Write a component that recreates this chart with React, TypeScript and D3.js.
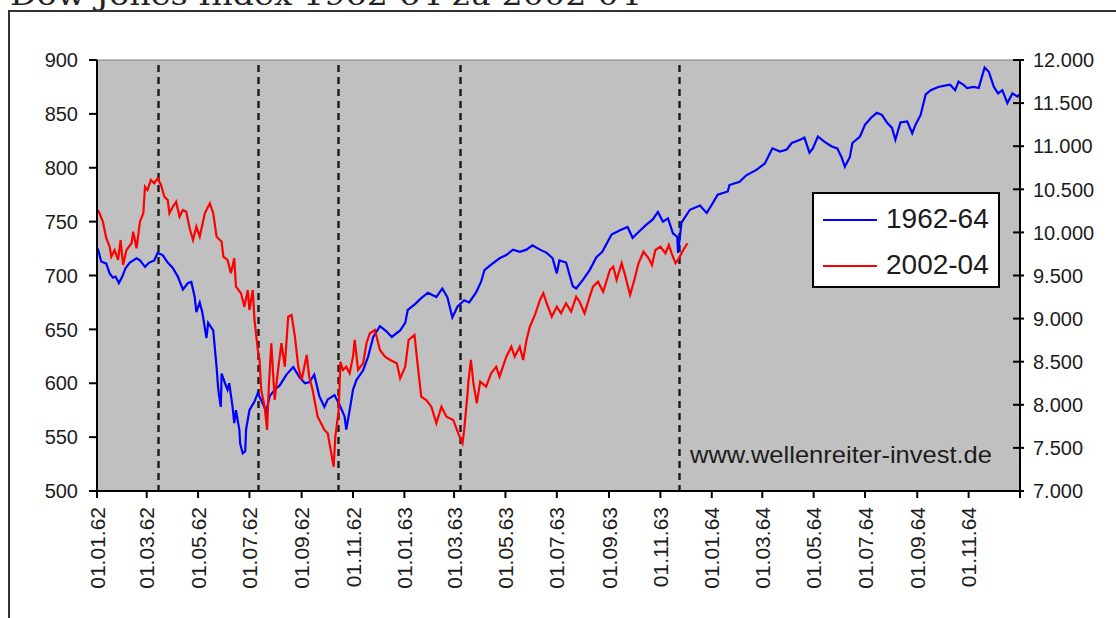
import React from 'react';
import * as d3 from 'd3';

const titleText = 'Dow Jones Index 1962-64 zu 2002-04';
const seriesNames = ['1962-64', '2002-04'];
const watermark = 'www.wellenreiter-invest.de';

const xTickDates = [
  '1962-01-01', '1962-03-01', '1962-05-01', '1962-07-01', '1962-09-01', '1962-11-01',
  '1963-01-01', '1963-03-01', '1963-05-01', '1963-07-01', '1963-09-01', '1963-11-01',
  '1964-01-01', '1964-03-01', '1964-05-01', '1964-07-01', '1964-09-01', '1964-11-01',
];
const xDomain = ['1962-01-01', '1965-01-01'];
const leftTicks = [500, 550, 600, 650, 700, 750, 800, 850, 900];
const rightTicks = [7000, 7500, 8000, 8500, 9000, 9500, 10000, 10500, 11000, 11500, 12000];
const markerDates = ['1962-03-14', '1962-07-11', '1962-10-14', '1963-03-08', '1963-11-23'];

const dow1962: [string, number][] = [
  ['1962-01-02', 725], ['1962-01-06', 713], ['1962-01-12', 711], ['1962-01-16', 702], ['1962-01-20', 698],
  ['1962-01-23', 699], ['1962-01-27', 693], ['1962-01-31', 699], ['1962-02-04', 707], ['1962-02-09', 712],
  ['1962-02-17', 716], ['1962-02-21', 714], ['1962-02-27', 708], ['1962-03-04', 712], ['1962-03-10', 714],
  ['1962-03-14', 721], ['1962-03-20', 719], ['1962-03-26', 712], ['1962-04-01', 707], ['1962-04-07', 699],
  ['1962-04-13', 687], ['1962-04-19', 693], ['1962-04-23', 694], ['1962-04-27', 680], ['1962-04-29', 666],
  ['1962-05-03', 675], ['1962-05-06', 666], ['1962-05-11', 642], ['1962-05-13', 656], ['1962-05-19', 649],
  ['1962-05-23', 615], ['1962-05-25', 594], ['1962-05-28', 578], ['1962-05-29', 609], ['1962-06-02', 600],
  ['1962-06-05', 594], ['1962-06-07', 600], ['1962-06-11', 578], ['1962-06-13', 563], ['1962-06-15', 575],
  ['1962-06-19', 557], ['1962-06-20', 544], ['1962-06-23', 535], ['1962-06-26', 537], ['1962-06-27', 557],
  ['1962-07-01', 575], ['1962-07-07', 583], ['1962-07-11', 591], ['1962-07-17', 581], ['1962-07-21', 574],
  ['1962-07-25', 588], ['1962-07-31', 594], ['1962-08-06', 598], ['1962-08-14', 608], ['1962-08-22', 615],
  ['1962-08-30', 605], ['1962-09-05', 600], ['1962-09-10', 601], ['1962-09-16', 608], ['1962-09-22', 588],
  ['1962-09-28', 578], ['1962-10-02', 585], ['1962-10-10', 589], ['1962-10-16', 580], ['1962-10-22', 569],
  ['1962-10-24', 557], ['1962-10-28', 575], ['1962-11-01', 594], ['1962-11-05', 603], ['1962-11-13', 612],
  ['1962-11-19', 625], ['1962-11-25', 643], ['1962-12-03', 653], ['1962-12-11', 648], ['1962-12-17', 643],
  ['1962-12-27', 649], ['1963-01-02', 656], ['1963-01-05', 668], ['1963-01-13', 673], ['1963-01-21', 679],
  ['1963-01-29', 684], ['1963-02-08', 680], ['1963-02-15', 688], ['1963-02-21', 680], ['1963-02-27', 661],
  ['1963-03-05', 671], ['1963-03-13', 677], ['1963-03-19', 675], ['1963-03-27', 684], ['1963-04-02', 694],
  ['1963-04-06', 705], ['1963-04-14', 710], ['1963-04-24', 716], ['1963-05-02', 719], ['1963-05-10', 724],
  ['1963-05-18', 722], ['1963-05-26', 724], ['1963-06-02', 728], ['1963-06-11', 724], ['1963-06-19', 721],
  ['1963-06-26', 716], ['1963-07-01', 702], ['1963-07-04', 714], ['1963-07-12', 712], ['1963-07-20', 690],
  ['1963-07-24', 688], ['1963-08-01', 696], ['1963-08-09', 705], ['1963-08-17', 717], ['1963-08-24', 722],
  ['1963-09-04', 738], ['1963-09-14', 742], ['1963-09-23', 745], ['1963-09-29', 735], ['1963-10-07', 741],
  ['1963-10-15', 747], ['1963-10-23', 752], ['1963-10-29', 759], ['1963-11-04', 750], ['1963-11-10', 753],
  ['1963-11-16', 739], ['1963-11-21', 736], ['1963-11-22', 721], ['1963-11-26', 749], ['1963-12-06', 761],
  ['1963-12-18', 765], ['1963-12-26', 758], ['1964-01-02', 767], ['1964-01-08', 775], ['1964-01-20', 778],
  ['1964-01-22', 784], ['1964-02-03', 787], ['1964-02-11', 793], ['1964-02-23', 798], ['1964-03-04', 804],
  ['1964-03-13', 818], ['1964-03-22', 815], ['1964-03-30', 817], ['1964-04-05', 823], ['1964-04-15', 826],
  ['1964-04-20', 828], ['1964-04-26', 814], ['1964-04-30', 818], ['1964-05-06', 829], ['1964-05-14', 824],
  ['1964-05-22', 820], ['1964-05-29', 818], ['1964-06-03', 810], ['1964-06-07', 801], ['1964-06-13', 810],
  ['1964-06-16', 823], ['1964-06-25', 829], ['1964-07-01', 840], ['1964-07-09', 847], ['1964-07-15', 851],
  ['1964-07-21', 849], ['1964-07-27', 842], ['1964-08-02', 837], ['1964-08-06', 826], ['1964-08-12', 842],
  ['1964-08-20', 843], ['1964-08-26', 832], ['1964-08-30', 840], ['1964-09-05', 849], ['1964-09-11', 868],
  ['1964-09-17', 872], ['1964-09-26', 875], ['1964-10-02', 876], ['1964-10-10', 877], ['1964-10-16', 872],
  ['1964-10-20', 880], ['1964-10-26', 877], ['1964-10-30', 874], ['1964-11-07', 875], ['1964-11-13', 874],
  ['1964-11-17', 885], ['1964-11-20', 893], ['1964-11-25', 889], ['1964-12-01', 875], ['1964-12-06', 869],
  ['1964-12-11', 872], ['1964-12-17', 860], ['1964-12-23', 869], ['1964-12-29', 866], ['1964-12-31', 868],
];

const dow2002: [string, number][] = [
  ['2002-01-02', 10260], ['2002-01-04', 10222], ['2002-01-08', 10124], ['2002-01-12', 9932], ['2002-01-16', 9834],
  ['2002-01-18', 9718], ['2002-01-22', 9796], ['2002-01-26', 9680], ['2002-01-29', 9912], ['2002-02-01', 9622],
  ['2002-02-05', 9796], ['2002-02-11', 9874], ['2002-02-13', 10008], ['2002-02-17', 9816], ['2002-02-21', 10124],
  ['2002-02-25', 10222], ['2002-02-27', 10530], ['2002-03-02', 10492], ['2002-03-06', 10608], ['2002-03-10', 10570],
  ['2002-03-14', 10628], ['2002-03-18', 10550], ['2002-03-22', 10414], ['2002-03-26', 10376], ['2002-03-28', 10222],
  ['2002-04-01', 10298], ['2002-04-05', 10356], ['2002-04-09', 10182], ['2002-04-13', 10260], ['2002-04-17', 10240],
  ['2002-04-21', 10048], ['2002-04-25', 9912], ['2002-04-29', 10066], ['2002-05-03', 9950], ['2002-05-09', 10222],
  ['2002-05-15', 10338], ['2002-05-19', 10222], ['2002-05-23', 9950], ['2002-05-29', 9892], ['2002-05-31', 9718],
  ['2002-06-05', 9680], ['2002-06-09', 9526], ['2002-06-13', 9700], ['2002-06-15', 9370], ['2002-06-21', 9294],
  ['2002-06-25', 9138], ['2002-06-29', 9332], ['2002-07-01', 9100], ['2002-07-05', 9332], ['2002-07-07', 8984],
  ['2002-07-11', 8636], ['2002-07-13', 8520], ['2002-07-15', 8172], ['2002-07-19', 7978], ['2002-07-22', 7708],
  ['2002-07-24', 8210], ['2002-07-27', 8714], ['2002-07-31', 8056], ['2002-08-04', 8404], ['2002-08-08', 8714],
  ['2002-08-12', 8442], ['2002-08-16', 9022], ['2002-08-20', 9042], ['2002-08-24', 8790], ['2002-08-28', 8442],
  ['2002-09-01', 8288], ['2002-09-07', 8578], ['2002-09-10', 8326], ['2002-09-14', 8172], ['2002-09-20', 7862],
  ['2002-09-24', 7785], ['2002-09-28', 7708], ['2002-10-02', 7669], ['2002-10-09', 7282], ['2002-10-11', 7630],
  ['2002-10-15', 7940], ['2002-10-17', 8500], ['2002-10-20', 8404], ['2002-10-24', 8442], ['2002-10-28', 8365],
  ['2002-11-01', 8558], ['2002-11-03', 8752], ['2002-11-07', 8404], ['2002-11-13', 8481], ['2002-11-17', 8714],
  ['2002-11-21', 8830], ['2002-11-27', 8868], ['2002-12-03', 8636], ['2002-12-09', 8558], ['2002-12-15', 8520],
  ['2002-12-23', 8481], ['2002-12-27', 8307], ['2003-01-02', 8442], ['2003-01-06', 8752], ['2003-01-13', 8810],
  ['2003-01-17', 8442], ['2003-01-21', 8094], ['2003-01-27', 8056], ['2003-02-02', 7978], ['2003-02-08', 7785],
  ['2003-02-14', 7978], ['2003-02-20', 7862], ['2003-02-28', 7824], ['2003-03-06', 7669], ['2003-03-11', 7553],
  ['2003-03-13', 7708], ['2003-03-17', 8133], ['2003-03-18', 8268], ['2003-03-21', 8520], ['2003-03-24', 8249],
  ['2003-03-28', 8017], ['2003-04-01', 8268], ['2003-04-08', 8210], ['2003-04-14', 8365], ['2003-04-20', 8442],
  ['2003-04-24', 8326], ['2003-05-02', 8558], ['2003-05-08', 8674], ['2003-05-12', 8558], ['2003-05-18', 8674],
  ['2003-05-22', 8520], ['2003-05-26', 8752], ['2003-05-30', 8906], ['2003-06-05', 9042], ['2003-06-11', 9216],
  ['2003-06-15', 9294], ['2003-06-19', 9178], ['2003-06-25', 9022], ['2003-07-01', 9138], ['2003-07-06', 9061],
  ['2003-07-12', 9178], ['2003-07-18', 9080], ['2003-07-24', 9254], ['2003-07-28', 9196], ['2003-08-03', 9061],
  ['2003-08-09', 9254], ['2003-08-13', 9370], ['2003-08-19', 9428], ['2003-08-25', 9312], ['2003-09-02', 9564],
  ['2003-09-06', 9602], ['2003-09-10', 9448], ['2003-09-16', 9642], ['2003-09-20', 9506], ['2003-09-26', 9274],
  ['2003-10-01', 9448], ['2003-10-06', 9642], ['2003-10-12', 9776], ['2003-10-18', 9700], ['2003-10-22', 9622],
  ['2003-10-26', 9796], ['2003-11-01', 9834], ['2003-11-07', 9758], ['2003-11-11', 9854], ['2003-11-15', 9738],
  ['2003-11-19', 9642], ['2003-11-23', 9700], ['2003-11-27', 9776], ['2003-12-03', 9874],
];

const W = 1116;
const H = 618;
const M = { left: 97, right: 1020, top: 60, bottom: 491 };
const FONT = '"Liberation Sans", Arial, sans-serif';
const TXT = '#1c1c1c';

export default function App() {
  const parse = d3.timeParse('%Y-%m-%d');
  const fmt = d3.timeFormat('%d.%m.%y');
  const x = d3.scaleTime()
    .domain(xDomain.map((d) => parse(d) as Date))
    .range([M.left, M.right]);
  const yL = d3.scaleLinear().domain([500, 900]).range([M.bottom, M.top]);
  const yR = d3.scaleLinear().domain([7000, 12000]).range([M.bottom, M.top]);

  const blue = dow1962.map(([d, v]) => ({ t: parse(d) as Date, v }));
  const red = dow2002.map(([d, v]) => ({ t: d3.timeYear.offset(parse(d) as Date, -40), v }));

  const lineL = d3.line<{ t: Date; v: number }>().x((d) => x(d.t)).y((d) => yL(d.v));
  const lineR = d3.line<{ t: Date; v: number }>().x((d) => x(d.t)).y((d) => yR(d.v));

  const tickDates = [...xTickDates.map((d) => parse(d) as Date), parse(xDomain[1]) as Date];

  return (
    <svg width={W} height={H} style={{ position: 'absolute', left: 0, top: 0, display: 'block', background: '#fff' }}>
      {/* title (cut at top, as in the original) */}
      <text x={10} y={5} fontFamily='"DejaVu Serif", serif' fontSize={28} fill="#222" textLength={630} lengthAdjust="spacingAndGlyphs">
        {titleText}
      </text>
      {/* outer frame */}
      <line x1={8} y1={11} x2={W} y2={11} stroke="#333" strokeWidth={2} />
      <line x1={9} y1={10} x2={9} y2={H} stroke="#333" strokeWidth={2} />

      {/* plot area */}
      <rect x={M.left} y={M.top} width={M.right - M.left} height={M.bottom - M.top} fill="#c0c0c0" stroke="#808080" strokeWidth={1} />

      {/* markers */}
      {markerDates.map((d) => {
        const xx = Math.round(x(parse(d) as Date)) + 0.5;
        return <line key={d} x1={xx} x2={xx} y1={M.top + 5} y2={M.bottom} stroke="#1a1a1a" strokeWidth={2.4} strokeDasharray="7,5" />;
      })}

      {/* series */}
      <path d={lineL(blue) || ''} fill="none" stroke="#0000ff" strokeWidth={2.2} strokeLinejoin="miter" />
      <path d={lineR(red) || ''} fill="none" stroke="#ff0000" strokeWidth={2.2} strokeLinejoin="miter" />

      {/* axes */}
      <line x1={M.left} x2={M.left} y1={M.top} y2={M.bottom + 1} stroke="#000" strokeWidth={2} />
      <line x1={M.right} x2={M.right} y1={M.top} y2={M.bottom + 1} stroke="#000" strokeWidth={2} />
      <line x1={M.left - 1} x2={M.right + 1} y1={M.bottom} y2={M.bottom} stroke="#000" strokeWidth={2} />

      {leftTicks.map((v) => (
        <g key={'l' + v}>
          <line x1={M.left - 8} x2={M.left} y1={yL(v)} y2={yL(v)} stroke="#000" strokeWidth={2} />
          <text x={78} y={yL(v)} dy="0.36em" textAnchor="end" fontFamily={FONT} fontSize={20} fill={TXT}>{v}</text>
        </g>
      ))}
      {rightTicks.map((v) => (
        <g key={'r' + v}>
          <line x1={M.right - 7} x2={M.right + 4} y1={yR(v)} y2={yR(v)} stroke="#000" strokeWidth={2} />
          <text x={1033} y={yR(v)} dy="0.36em" textAnchor="start" fontFamily={FONT} fontSize={20} fill={TXT}>
            {d3.format(',')(v).replace(/,/g, '.')}
          </text>
        </g>
      ))}
      {tickDates.map((d, i) => {
        const xx = x(d);
        return (
          <g key={'x' + i}>
            <line x1={xx} x2={xx} y1={M.bottom} y2={M.bottom + 7} stroke="#000" strokeWidth={2} />
            {i < xTickDates.length && (
              <text transform={`translate(${xx},507) rotate(-90)`} dy="0.36em" textAnchor="end" fontFamily={FONT} fontSize={21} fill={TXT}>
                {fmt(d)}
              </text>
            )}
          </g>
        );
      })}

      {/* watermark */}
      <text x={690} y={463} fontFamily={FONT} fontSize={24} fill={TXT} textLength={302} lengthAdjust="spacingAndGlyphs">{watermark}</text>

      {/* legend */}
      <rect x={813} y={193} width={186} height={94} fill="#fff" stroke="#000" strokeWidth={2} />
      <line x1={823} x2={877} y1={220} y2={220} stroke="#0000ff" strokeWidth={2} />
      <line x1={823} x2={877} y1={266} y2={266} stroke="#ff0000" strokeWidth={2} />
      <text x={886} y={228} fontFamily={FONT} fontSize={28} fill={TXT}>{seriesNames[0]}</text>
      <text x={886} y={274} fontFamily={FONT} fontSize={28} fill={TXT}>{seriesNames[1]}</text>
    </svg>
  );
}
